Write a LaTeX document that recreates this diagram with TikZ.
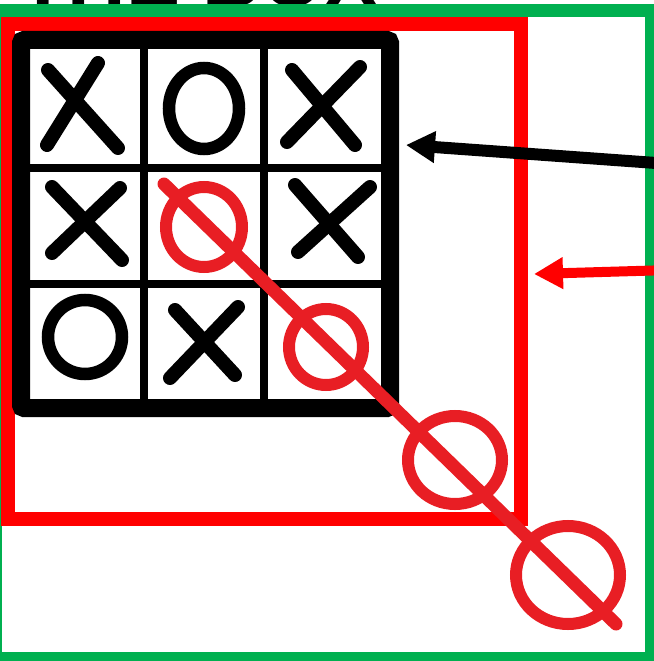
\documentclass[tikz,border=0pt]{standalone}
\usepackage{fontspec}
\setmainfont{Liberation Sans}
\usetikzlibrary{arrows.meta}
\definecolor{boxgreen}{RGB}{0,176,80}
\definecolor{boxred}{RGB}{255,0,0}
\definecolor{winred}{RGB}{232,30,36}

\begin{document}
\begin{tikzpicture}[x=1pt, y=-1pt,
    xstroke/.style={line width=14pt, line cap=round},
    ostroke/.style={line width=12.5pt},
    winstroke/.style={draw=winred, line width=12pt},
    pointer/.style={line width=#1, -{Triangle[length=29pt, width=30pt]}}]
  \useasboundingbox (0,0) rectangle (653,661);
  \node[anchor=base west, inner sep=0pt, font=\bfseries\fontsize{81}{81}\selectfont] (title) at (18,7) {THE BOX};
  \draw[boxgreen, line width=13pt] (-4.5,10.5) rectangle (651.5,658.5);
  \draw[boxred, line width=13.5pt] (8,24) rectangle (521,519);
  \draw[line width=18pt, rounded corners=3pt] (21,40) rectangle (390,408);
  \foreach \x in {144,264}
    \draw[line width=8pt] (\x,40) -- (\x,408);
  \foreach \y in {167.5,284}
    \draw[line width=8pt] (21,\y) -- (390,\y);
  \foreach \a/\b/\c/\d in {48/70/118/148, 98/63/47/145, 292/70/355/145, 360/67/287/142,
      52/187/122/260, 120/188/52/253, 295/185/358/257, 370/187/298/252,
      175/310/235/375, 238/307/170/378}
    \draw[xstroke] (\a,\b) -- (\c,\d);
  \draw[ostroke] (204,108.5) ellipse [x radius=35, y radius=40.5];
  \draw[ostroke] (85,337) ellipse [x radius=37, y radius=37];
  \draw[winstroke, line width=13pt, line cap=round] (164,184) -- (616,624);
  \foreach \cx/\cy/\rx/\ry in {204/227/38/40, 326/347/37/38, 455/460/47/44, 568/575/52/49}
    \draw[winstroke] (\cx,\cy) ellipse [x radius=\rx, y radius=\ry];
  \coordinate (boardtip) at (406,145);
  \coordinate (boardtail) at (670,164);
  \coordinate (boxtip) at (534,274);
  \coordinate (boxtail) at (670,270);
  \draw[pointer=12pt] (boardtail) -- (boardtip);
  \draw[pointer=10pt, boxred] (boxtail) -- (boxtip);
\end{tikzpicture}
\end{document}
